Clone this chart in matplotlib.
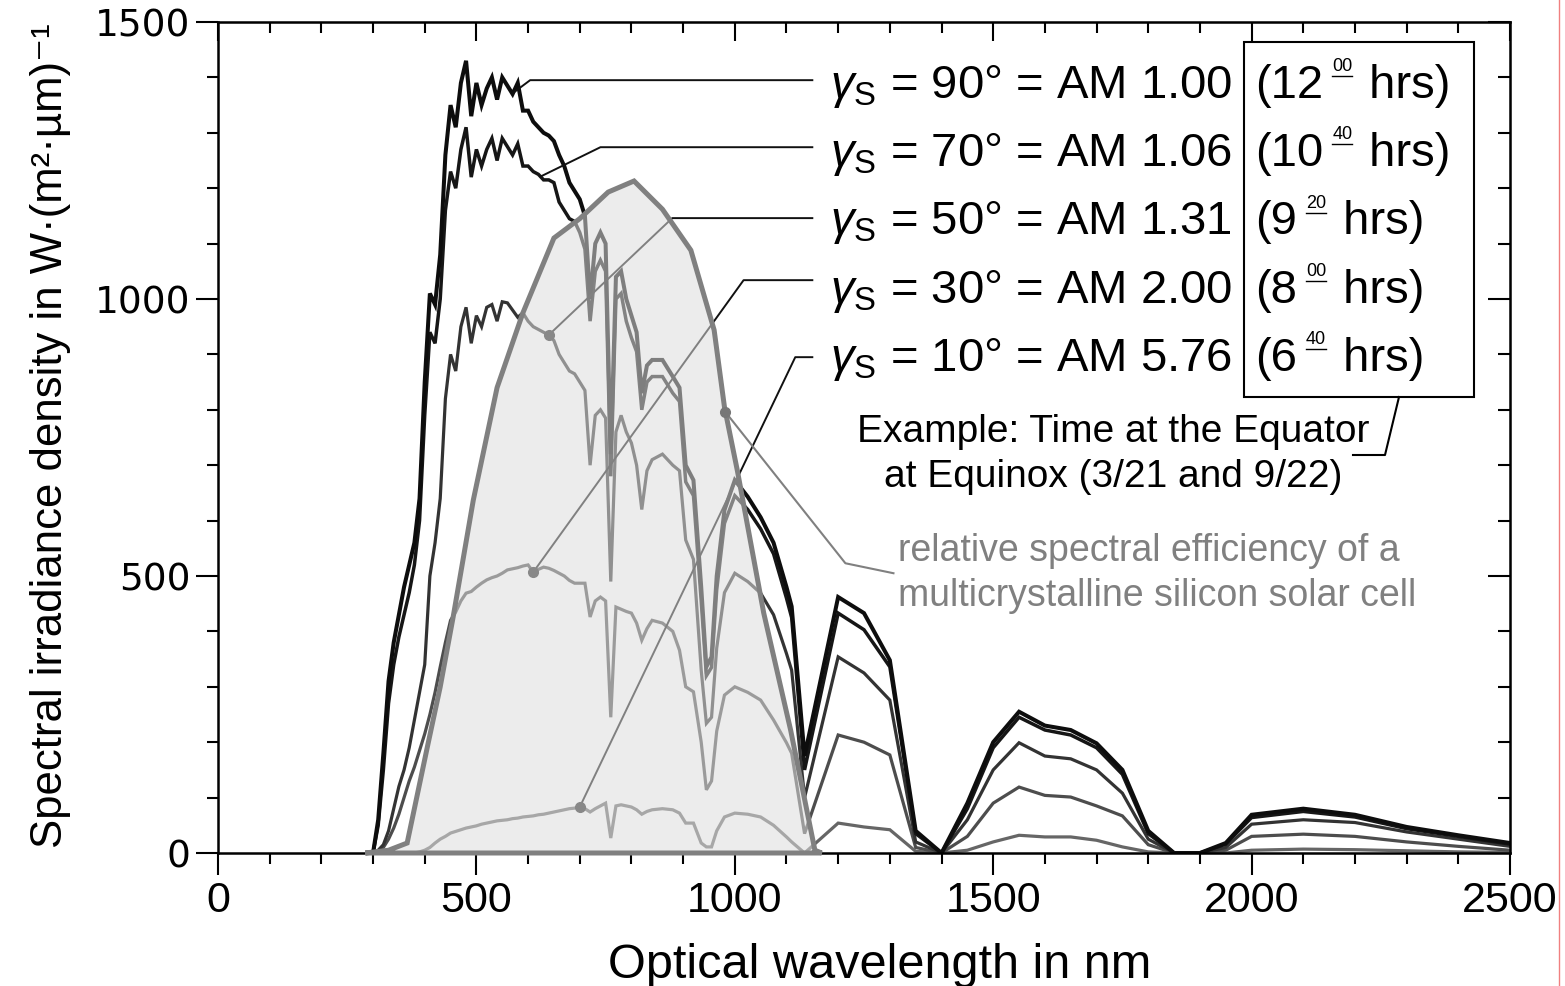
import numpy as np
import matplotlib
matplotlib.use("Agg")
import matplotlib.pyplot as plt
from matplotlib.transforms import Affine2D
from matplotlib.lines import Line2D
from matplotlib.patches import Rectangle
from matplotlib.ticker import MultipleLocator, NullFormatter

# wavelength grid (nm)
wl = [300, 310, 320, 330, 340, 350, 360, 370, 380, 390,
      400, 410, 420, 430, 440, 450, 460, 470, 480, 490,
      500, 510, 520, 530, 540, 550, 560, 570, 580, 590,
      600, 610, 620, 630, 640, 650, 660, 670, 680, 690,
      700, 710, 720, 730, 740, 750, 760, 770, 780, 790,
      800, 810, 820, 830, 840, 860, 880, 893, 905, 920,
      935, 945, 955, 965, 980, 1000, 1025, 1050, 1075, 1100,
      1110, 1135, 1200, 1250, 1300, 1350, 1400, 1450, 1500, 1550,
      1600, 1650, 1700, 1750, 1800, 1850, 1900, 1950, 2000, 2100,
      2200, 2300, 2400, 2500]

am100 = [0, 60, 180, 310, 380, 430, 480, 520, 560, 640,
         850, 1010, 990, 1080, 1260, 1350, 1310, 1390, 1430, 1330,
         1390, 1350, 1380, 1400, 1360, 1400, 1385, 1370, 1390, 1340,
         1340, 1320, 1310, 1300, 1295, 1285, 1260, 1240, 1210, 1195,
         1180, 1150, 1000, 1100, 1120, 1100, 720, 1040, 1050, 1000,
         970, 940, 830, 880, 890, 890, 860, 840, 700, 673,
         480, 336, 354, 500, 619, 673, 643, 606, 560, 480,
         445, 175, 462, 433, 348, 40, 0, 90, 200, 255,
         230, 222, 198, 150, 40, 0, 0, 18, 69, 80,
         69, 47, 32, 18]

am106 = [0, 50, 150, 270, 340, 390, 430, 470, 520, 600,
         790, 940, 920, 1000, 1160, 1230, 1200, 1270, 1310, 1220,
         1270, 1240, 1270, 1290, 1250, 1290, 1275, 1260, 1280, 1240,
         1240, 1230, 1225, 1215, 1215, 1210, 1175, 1160, 1145, 1140,
         1120, 1090, 960, 1050, 1070, 1050, 680, 1000, 1010, 960,
         930, 905, 800, 850, 860, 860, 830, 815, 670, 645,
         455, 320, 335, 475, 595, 645, 620, 585, 540, 460,
         425, 150, 433, 403, 336, 35, 0, 80, 190, 245,
         222, 213, 190, 142, 35, 0, 0, 16, 64, 75,
         65, 44, 30, 16]

am131 = [0, 5, 15, 40, 80, 120, 150, 190, 240, 290,
         340, 500, 560, 640, 820, 900, 870, 950, 985, 920,
         970, 950, 985, 990, 960, 995, 993, 980, 967, 975,
         960, 950, 945, 940, 935, 925, 900, 885, 870, 865,
         850, 835, 700, 790, 800, 785, 490, 760, 790, 760,
         740, 700, 620, 690, 710, 720, 700, 690, 565, 530,
         330, 234, 245, 370, 470, 505, 490, 469, 430, 360,
         330, 100, 354, 325, 276, 20, 0, 60, 150, 199,
         175, 170, 150, 108, 25, 0, 0, 10, 52, 60,
         55, 38, 25, 12]

am200 = [0, 0, 10, 25, 45, 70, 100, 130, 155, 185,
         215, 250, 290, 336, 380, 420, 435, 455, 469, 472,
         480, 487, 493, 497, 500, 505, 511, 513, 515, 518,
         520, 507, 512, 516, 514, 510, 505, 500, 492, 487,
         487, 487, 426, 455, 462, 455, 245, 444, 440, 436,
         433, 415, 384, 405, 420, 415, 400, 366, 300, 291,
         200, 114, 130, 220, 285, 300, 290, 276, 240, 199,
         180, 35, 213, 200, 177, 10, 0, 30, 90, 119,
         104, 101, 85, 67, 15, 0, 0, 5, 30, 34,
         30, 20, 12, 5]

am576 = [0, 0, 0, 0, 0, 0, 0, 0, 0, 2,
         5, 10, 18, 25, 30, 36, 39, 42, 45, 47,
         49, 52, 54, 56, 58, 59, 60, 62, 63, 65,
         66, 67, 69, 70, 72, 74, 76, 78, 80, 81,
         83, 80, 74, 80, 85, 90, 27, 85, 87, 85,
         83, 78, 70, 75, 78, 80, 78, 72, 54, 54,
         18, 11, 11, 40, 65, 72, 70, 65, 50, 29,
         20, 0, 54, 47, 42, 3, 0, 5, 20, 32,
         29, 29, 23, 11, 2, 0, 0, 0, 5, 7,
         6, 4, 2, 1]

# relative spectral efficiency of mc-Si cell (scaled to the irradiance axis)
eff_wl = [285, 330, 366, 405, 430, 455, 494, 540, 590, 650, 700,
          755, 805, 860, 915, 960, 980, 1005, 1056, 1108, 1155, 1168]
eff_val = [0, 5, 18, 191, 300, 426, 637, 840, 975, 1110, 1145,
           1193, 1213, 1162, 1088, 944, 805, 690, 433, 222, 5, 0]

angles = ["90", "70", "50", "30", "10"]
airmass = ["1.00", "1.06", "1.31", "2.00", "5.76"]
hours = ["12", "10", "9", "8", "6"]
minutes = ["00", "40", "20", "00", "40"]

SANS = "Liberation Sans"
plt.rcParams["mathtext.fontset"] = "custom"
plt.rcParams["mathtext.rm"] = SANS
plt.rcParams["mathtext.it"] = SANS + ":italic"

W, H = 1565, 986
fig = plt.figure(figsize=(W / 100, H / 100), dpi=100)
ax = fig.add_axes([218 / W, 1 - 853 / H, (1510 - 218) / W, (853 - 22) / H])
px = Affine2D().scale(1 / W, -1 / H).translate(0, 1) + fig.transFigure

series = [(am576, "#666666", 2.3), (am200, "#4d4d4d", 2.3),
          (am131, "#333333", 2.3), (am106, "#161616", 2.5),
          (am100, "#0d0d0d", 2.9)]
for vals, col, lw in series:
    ax.plot(wl, vals, color=col, lw=lw, zorder=2, solid_joinstyle="miter")

# leader lines to the curves
d50 = (640, np.interp(640, wl, am131))
d30 = (610, np.interp(610, wl, am200))
d10 = (700, np.interp(700, wl, am576))
leaders = [
    [(1150, 1395), (604, 1395), (571, np.interp(571, wl, am100))],
    [(1150, 1274), (740, 1274), (624, np.interp(624, wl, am106))],
    [(1150, 1146), (879, 1146), d50],
    [(1150, 1034), (1017, 1034), d30],
    [(1150, 895), (1117, 895), d10],
]
for pts in leaders:
    xs, ys = zip(*pts)
    ax.plot(xs, ys, color="#111111", lw=1.4, zorder=2)
for d in (d50, d30, d10):
    ax.plot(*d, "o", color="#222222", ms=7, zorder=2.5)

# efficiency region
ax.fill(eff_wl, eff_val, facecolor=(0.867, 0.867, 0.867, 0.55),
        edgecolor="#808080", lw=3.6, zorder=3, clip_on=False)
deff = (982, np.interp(982, eff_wl, eff_val))
ax.plot([deff[0], 1214, 1307], [deff[1], 523, 505], color="#808080", lw=1.5, zorder=3.5)
ax.plot(*deff, "o", color="#777777", ms=7, zorder=4)

ax.set_xlim(0, 2500)
ax.set_ylim(0, 1500)
ax.xaxis.set_major_locator(MultipleLocator(500))
ax.xaxis.set_minor_locator(MultipleLocator(100))
ax.yaxis.set_major_locator(MultipleLocator(500))
ax.yaxis.set_minor_locator(MultipleLocator(100))
for s in ax.spines.values():
    s.set_linewidth(1.8)
ax.tick_params(which="major", direction="out", length=16, width=1.5)
ax.tick_params(which="minor", direction="out", length=8, width=1.5)
ax.tick_params(axis="x", pad=4, labelsize=31)
ax.tick_params(axis="y", pad=4, labelsize=27)
for lab in ax.get_xticklabels():
    lab.set_family(SANS)
for lab in ax.get_yticklabels():
    lab.set_family("DejaVu Sans")

top = ax.secondary_xaxis("top")
top.xaxis.set_major_locator(MultipleLocator(500))
top.xaxis.set_minor_locator(MultipleLocator(100))
top.xaxis.set_major_formatter(NullFormatter())
top.tick_params(which="major", direction="in", length=14, width=1.5)
top.tick_params(which="minor", direction="in", length=8, width=1.5)
right = ax.secondary_yaxis("right")
right.yaxis.set_major_locator(MultipleLocator(500))
right.yaxis.set_minor_locator(MultipleLocator(100))
right.yaxis.set_major_formatter(NullFormatter())
right.tick_params(which="major", direction="in", length=16, width=1.5)
right.tick_params(which="minor", direction="in", length=9, width=1.5)

# axis titles
fig.text(880, 978, "Optical wavelength in nm", transform=px, ha="center",
         va="baseline", fontsize=35, family=SANS)
fig.text(62, 436, "Spectral irradiance density in W·(m²·µm)⁻¹", transform=px,
         rotation=90, ha="center", va="baseline", fontsize=31.5,
         family=[SANS, "DejaVu Sans"], rotation_mode="anchor")

# legend-like labels
renderer = fig.canvas.get_renderer()
for i in range(5):
    base = 98 + 68.25 * i
    fig.text(830, base, rf"$\gamma_\mathrm{{S}}$ = {angles[i]}° = AM {airmass[i]}",
             transform=px, fontsize=34, family=SANS, va="baseline")
    t1 = fig.text(1255, base, "(" + hours[i], transform=px, fontsize=34,
                  family=SANS, va="baseline")
    x1 = t1.get_window_extent(renderer).x1
    t2 = fig.text(x1 + 9, base - 27, minutes[i], transform=px, fontsize=13,
                  family=SANS, va="baseline")
    e2 = t2.get_window_extent(renderer)
    fig.add_artist(Line2D([e2.x0, e2.x1], [base - 22, base - 22], transform=px,
                          color="black", lw=1))
    fig.text(e2.x1 + 4, base, " hrs)", transform=px, fontsize=34, family=SANS,
             va="baseline")

fig.add_artist(Rectangle((1244, 42), 230, 355, transform=px, fill=False,
                         ec="black", lw=1.5))
fig.add_artist(Line2D([1399, 1385, 1353], [397, 455, 455], transform=px,
                      color="black", lw=1.5))
fig.text(1113, 442, "Example: Time at the Equator", transform=px, ha="center",
         va="baseline", fontsize=28, family=SANS)
fig.text(1113, 487, "at Equinox (3/21 and 9/22)", transform=px, ha="center",
         va="baseline", fontsize=28, family=SANS)
fig.text(898, 561, "relative spectral efficiency of a", transform=px,
         va="baseline", fontsize=27, family=SANS, color="#808080")
fig.text(898, 606, "multicrystalline silicon solar cell", transform=px,
         va="baseline", fontsize=27, family=SANS, color="#808080")

fig.add_artist(Line2D([1559, 1559], [0, 986], transform=px, color="#f08080", lw=1))

fig.savefig("out.png", dpi=100)
